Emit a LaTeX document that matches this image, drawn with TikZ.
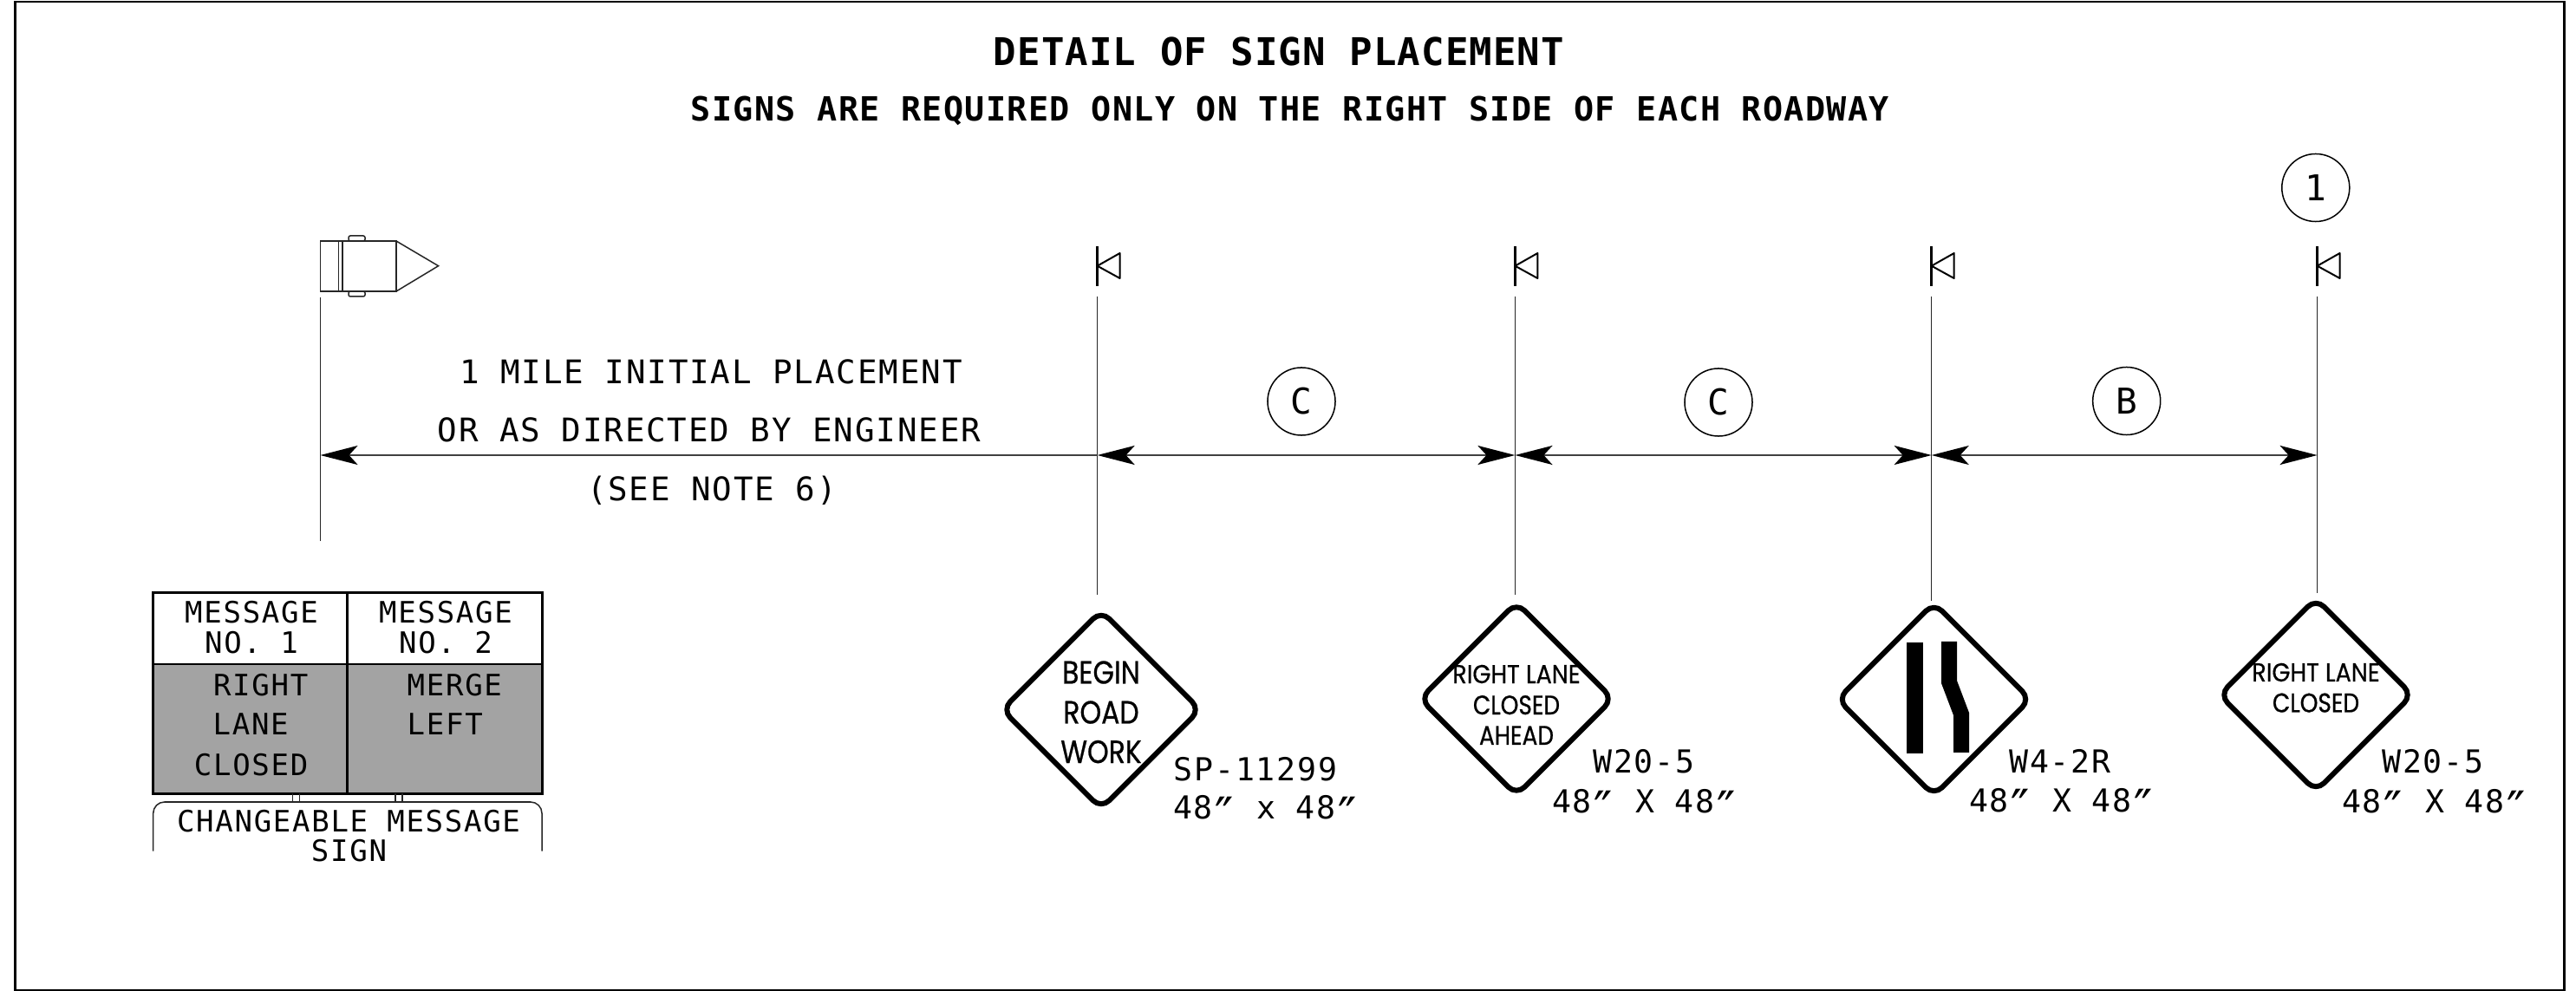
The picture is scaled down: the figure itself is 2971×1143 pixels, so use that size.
\documentclass[tikz,border=0pt]{standalone}
\usepackage{fontspec}
\usetikzlibrary{arrows.meta,shapes.geometric}
\newfontfamily\cadfont[LetterSpace=5]{DejaVu Sans Mono}
\newfontfamily\titlefont[LetterSpace=2.5,BoldFont={DejaVu Sans Mono Bold}]{DejaVu Sans Mono}
\newfontfamily\subtitlefont[LetterSpace=3.6,BoldFont={DejaVu Sans Mono Bold}]{DejaVu Sans Mono}
\newfontfamily\signfont[FakeStretch=0.85,FakeBold=0.6]{Poppins}
\newfontfamily\signwidefont[FakeStretch=0.9,FakeBold=0.5]{Poppins}
\newcommand\pxf[1]{\fontsize{\fpeval{#1*0.28453}}{\fpeval{#1*0.34}}\selectfont}
\newcommand\dpr{\makebox[0.72em]{\raisebox{-0.16cm}{\pxf{58}″}}}
\definecolor{panelgray}{HTML}{A3A3A3}
\tikzset{
  x=0.01cm,y=-0.01cm,
  thinline/.style={line width=0.015cm,black!85},
  tickline/.style={line width=0.025cm,black},
  frameline/.style={line width=0.03cm,black},
  dimline/.style={line width=0.022cm,black!75,{Stealth[length=0.43cm,width=0.22cm,inset=0.1cm,black]}-{Stealth[length=0.43cm,width=0.22cm,inset=0.1cm,black]}},
  dimlineone/.style={line width=0.022cm,black!75,{Stealth[length=0.43cm,width=0.22cm,inset=0.1cm,black]}-},
  lab/.style={inner sep=0pt,anchor=base,font=\cadfont\pxf{37.5}},
  tablab/.style={inner sep=0pt,anchor=base,font=\cadfont\pxf{34}},
  tabllab/.style={inner sep=0pt,anchor=base west,font=\cadfont\pxf{34}},
  tabrlab/.style={inner sep=0pt,anchor=base east,font=\cadfont\pxf{34}},
  signlab/.style={inner sep=0pt,anchor=base,font=\cadfont\pxf{36.5}},
  callout/.style={circle,draw,line width=0.015cm,inner sep=0pt,minimum size=0.78cm,font=\cadfont\pxf{41}},
  signbody/.style={diamond,aspect=1,draw,line width=0.06cm,rounded corners=0.13cm,inner sep=0pt,outer sep=0pt,minimum width=#1,minimum height=#1},
  signtext/.style={inner sep=0pt,anchor=base,font=\signfont\pxf{#1}},
  signwide/.style={inner sep=0pt,anchor=base,font=\signwidefont\pxf{#1}},
}
\begin{document}
\begin{tikzpicture}
\useasboundingbox (0,0) rectangle (2971,1143);
\fill[white] (0,0) rectangle (2971,1143);
\draw[line width=0.025cm] (17.5,2) rectangle (2957.5,1142);

% titles
\node[inner sep=0pt,anchor=base,font=\titlefont\bfseries\pxf{44}] (title) at (1475,76) {DETAIL OF SIGN PLACEMENT};
\node[inner sep=0pt,anchor=base,font=\subtitlefont\bfseries\pxf{38.4}] (subtitle) at (1488,140) {SIGNS ARE REQUIRED ONLY ON THE RIGHT SIDE OF EACH ROADWAY};

% truck
\draw[thinline] (369.5,278) rectangle (457,336);
\draw[thinline] (390.5,278) -- (390.5,336);
\draw[thinline] (395,278) -- (395,336);
\draw[thinline] (457,278) -- (505.6,306.7) -- (457,336);
\draw[thinline,rounded corners=0.02cm] (402,272) rectangle (421,278);
\draw[thinline,rounded corners=0.02cm] (402,336) rectangle (421,342);

% sign ticks and flags
\foreach \x in {1265.6,1747.4,2227.7,2672.6}{
  \draw[tickline] (\x,284) -- (\x,330);
  \draw[line width=0.02cm,line join=round] (\x,306.7) -- (\x+26,292) -- (\x+26,321) -- cycle;
}

% extension line end points
\coordinate (ea0) at (369.5,343);  \coordinate (eb0) at (369.5,624);
\coordinate (ea1) at (1265.6,342); \coordinate (eb1) at (1265.6,686);
\coordinate (ea2) at (1747.4,342); \coordinate (eb2) at (1747.4,686);
\coordinate (ea3) at (2227.7,342); \coordinate (eb3) at (2227.7,693);
\coordinate (ea4) at (2672.6,342); \coordinate (eb4) at (2672.6,684);
\foreach \i in {0,...,4}{\draw[thinline] (ea\i) -- (eb\i);}

% dimension lines
\coordinate (d0) at (369.5,525);
\coordinate (d1) at (1265.6,525);
\coordinate (d2) at (1747.4,525);
\coordinate (d3) at (2227.7,525);
\coordinate (d4) at (2672.6,525);
\draw[dimlineone] (d0) -- (d1);
\draw[dimline] (d1) -- (d2);
\draw[dimline] (d2) -- (d3);
\draw[dimline] (d3) -- (d4);

% distance labels
\node[lab] (l1) at (820,443) {1 MILE INITIAL PLACEMENT};
\node[lab] (l2) at (818,510) {OR AS DIRECTED BY ENGINEER};
\node[lab] (l3) at (821,578) {(SEE NOTE 6)};
\node[callout] (c1) at (1501,463) {C};
\node[callout] (c2) at (1982,464) {C};
\node[callout] (c3) at (2452.7,462.5) {B};
\node[callout] (c4) at (2670.8,216.5) {1};

% message board
\fill[panelgray] (176.7,765.7) rectangle (625,915.3);
\draw[line width=0.02cm] (176.7,765.7) -- (625,765.7);
\draw[frameline] (176.7,684) rectangle (625,915.3);
\draw[frameline] (400.7,684) -- (400.7,915.3);
\draw[thinline] (337.3,915.3) -- (337.3,925);
\draw[thinline] (345.3,915.3) -- (345.3,925);
\draw[thinline] (456,915.3) -- (456,925);
\draw[thinline] (464,915.3) -- (464,925);
\draw[thinline,rounded corners=0.13cm] (176.7,981.7) -- (176.7,925) -- (625,925) -- (625,981.7);
\node[tablab] (m1a) at (290,719) {MESSAGE};
\node[tablab] (m1b) at (290,754) {NO. 1};
\node[tablab] (m2a) at (514,719) {MESSAGE};
\node[tablab] (m2b) at (514,754) {NO. 2};
\node[tabrlab] (r1) at (356,803) {RIGHT};
\node[tabllab] (r2) at (245,847) {LANE};
\node[tabrlab] (r3) at (356,895) {CLOSED};
\node[tabllab] (r4) at (469,803) {MERGE};
\node[tabllab] (r5) at (469,847) {LEFT};
\node[tablab] (cm1) at (402,959) {CHANGEABLE MESSAGE};
\node[tablab] (cm2) at (402.5,994) {SIGN};

% signs
\node[signbody=2.28cm] (s1) at (1270,818.5) {};
\node[signbody=2.22cm] (s2) at (1749,806) {};
\node[signbody=2.22cm] (s3) at (2230.5,806.5) {};
\node[signbody=2.22cm] (s4) at (2671,801.5) {};

\node[signtext=37] (t1a) at (1270,788.5) {BEGIN};
\node[signtext=37] (t1b) at (1270,834.5) {ROAD};
\node[signtext=37] (t1c) at (1270,880) {WORK};
\node[signwide=30] (t2a) at (1749,788) {RIGHT LANE};
\node[signtext=31] (t2b) at (1749,824) {CLOSED};
\node[signtext=31] (t2c) at (1749,859) {AHEAD};
\node[signwide=30] (t4a) at (2671,786) {RIGHT LANE};
\node[signtext=31] (t4b) at (2671,821.5) {CLOSED};

\fill (2199,741) rectangle (2218,869);
\fill (2239,740) -- (2257,740) -- (2257,785) -- (2271,822) -- (2271,868) -- (2253,868) -- (2253,825) -- (2239,788) -- cycle;

% sign codes
\node[signlab] (p1a) at (1448,900) {SP-11299};
\node[signlab] (p1b) at (1460,945) {48\dpr{} x 48\dpr};
\node[signlab] (p2a) at (1896,892) {W20-5};
\node[signlab] (p2b) at (1897,938) {48\dpr{} X 48\dpr};
\node[signlab] (p3a) at (2376,892) {W4-2R};
\node[signlab] (p3b) at (2378,936) {48\dpr{} X 48\dpr};
\node[signlab] (p4a) at (2806,892) {W20-5};
\node[signlab] (p4b) at (2808,938) {48\dpr{} X 48\dpr};
\end{tikzpicture}
\end{document}
